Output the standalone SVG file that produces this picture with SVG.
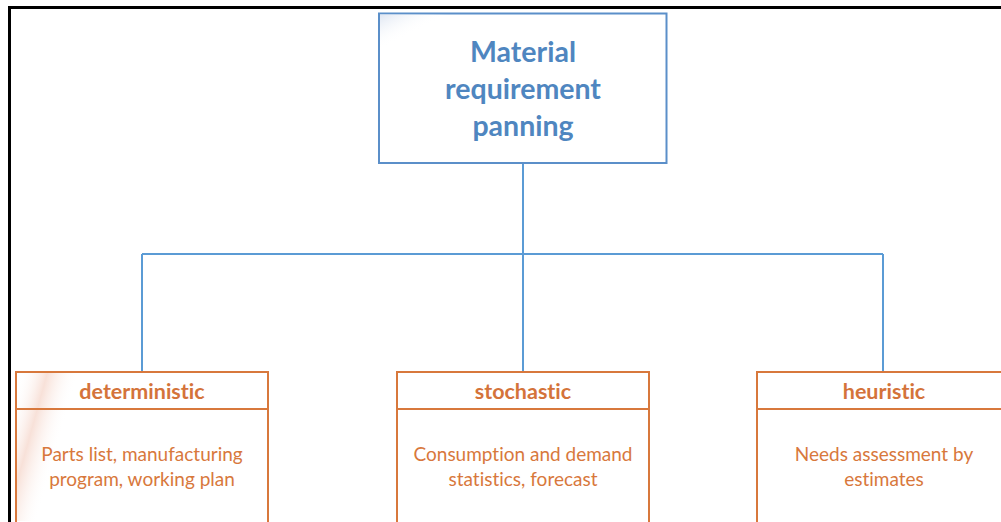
<svg xmlns="http://www.w3.org/2000/svg" width="1001" height="522" viewBox="0 0 1001 522">
  <defs>
    <style>
      .frame { fill: none; stroke: #000; stroke-width: 3; }
      .top { fill: #fff; stroke: #5b8fc9; stroke-width: 2; }
      .sub { fill: #fff; stroke: #d8783c; stroke-width: 2; }
      .link { fill: none; stroke: #5b9bd5; stroke-width: 2; }
      text { font-family: Lato, "Liberation Sans", sans-serif; text-anchor: middle; font-variant-ligatures: none; }
      .title { font-weight: bold; font-size: 28.5px; fill: #4f86c0; }
      .head { font-weight: bold; font-size: 21.5px; fill: #d4733a; }
      .body { font-size: 19px; fill: #d8783c; }
    </style>
    <linearGradient id="cornerBlue" x1="0" y1="0" x2="1" y2="1">
      <stop offset="0" stop-color="#dfe6f2"/>
      <stop offset="0.12" stop-color="#ffffff" stop-opacity="0"/>
    </linearGradient>
    <!-- soft diagonal sheen across the left card -->
    <linearGradient id="shine" gradientUnits="userSpaceOnUse" x1="0" y1="418" x2="72" y2="438">
      <stop offset="0.1" stop-color="#ffffff" stop-opacity="0"/>
      <stop offset="0.45" stop-color="#f3cdbf" stop-opacity="0.6"/>
      <stop offset="0.85" stop-color="#ffffff" stop-opacity="0"/>
    </linearGradient>
  </defs>

  <!-- page frame -->
  <path class="frame" d="M9.5,522 V7.5 H1001"/>

  <!-- connectors -->
  <g id="connectors">
    <path class="link" d="M523,163 V254 M142,254 H883 M142,254 V372 M523,254 V372 M883,254 V372"/>
  </g>

  <g id="mrp">
    <rect class="top" x="379" y="13.5" width="287.5" height="149.5"/>
    <rect x="380" y="14.5" width="285.5" height="147.5" fill="url(#cornerBlue)"/>
    <text class="title" x="523" y="62">Material</text>
    <text class="title" x="523" y="99">requirement</text>
    <text class="title" x="523" y="136">panning</text>
  </g>

  <g id="deterministic">
    <rect class="sub" x="16" y="372" width="252" height="152"/>
    <rect x="17" y="373" width="250" height="148" fill="url(#shine)"/>
    <line class="sub" x1="16" y1="409" x2="268" y2="409"/>
    <text class="head" x="142" y="399">deterministic</text>
    <text class="body" x="142" y="461">Parts list, manufacturing</text>
    <text class="body" x="142" y="486">program, working plan</text>
  </g>

  <g id="stochastic">
    <rect class="sub" x="397" y="372" width="252" height="152"/>
    <line class="sub" x1="397" y1="409" x2="649" y2="409"/>
    <text class="head" x="523" y="399">stochastic</text>
    <text class="body" x="523" y="461">Consumption and demand</text>
    <text class="body" x="523" y="486">statistics, forecast</text>
  </g>

  <g id="heuristic">
    <rect class="sub" x="757" y="372" width="252" height="152"/>
    <line class="sub" x1="757" y1="409" x2="1009" y2="409"/>
    <text class="head" x="884" y="399">heuristic</text>
    <text class="body" x="884" y="461">Needs assessment by</text>
    <text class="body" x="884" y="486">estimates</text>
  </g>
</svg>
